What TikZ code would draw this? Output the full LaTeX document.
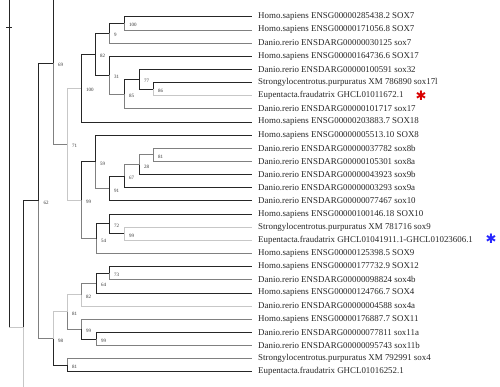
\documentclass[tikz,border=0pt]{standalone}
\usepackage{fontspec}
\setmainfont{Liberation Serif}
\newfontfamily\symfont{DejaVu Sans}
\begin{document}
\begin{tikzpicture}[
    x=1pt, y=-1pt,
    leaf/.style={anchor=west, inner xsep=6pt, inner ysep=0pt, font=\fontsize{8.9}{10}\selectfont, text=black!85},
    boot/.style={anchor=west, inner sep=0pt, xshift=5pt, yshift=-2pt, font=\fontsize{5}{6}\selectfont, text=black!80},
    dk/.style={draw=black!85, line width=0.8pt},
    md/.style={draw=black!50, line width=0.8pt},
    lt/.style={draw=black!22, line width=0.8pt},
    starmark/.style={inner sep=0pt, font=\symfont\fontsize{13}{13}\selectfont}
]
    \useasboundingbox (0,0) rectangle (500,386);
    \clip (0,0) rectangle (500,386);

    % Leaves
    \node [leaf] (l1) at (252,16.7) {Homo.sapiens ENSG00000285438.2 SOX7};
    \node [leaf] (l2) at (252,29.9) {Homo.sapiens ENSG00000171056.8 SOX7};
    \node [leaf] (l3) at (252,43.0) {Danio.rerio ENSDARG00000030125 sox7};
    \node [leaf] (l4) at (252,56.2) {Homo.sapiens ENSG00000164736.6 SOX17};
    \node [leaf] (l5) at (252,69.3) {Danio.rerio ENSDARG00000100591 sox32};
    \node [leaf] (l6) at (252,82.5) {Strongylocentrotus.purpuratus XM 786890 sox17l};
    \node [leaf] (l7) at (252,95.6) {Eupentacta.fraudatrix GHCL01011672.1};
    \node [leaf] (l8) at (252,108.8) {Danio.rerio ENSDARG00000101717 sox17};
    \node [leaf] (l9) at (252,121.9) {Homo.sapiens ENSG00000203883.7 SOX18};
    \node [leaf] (l10) at (252,135.1) {Homo.sapiens ENSG00000005513.10 SOX8};
    \node [leaf] (l11) at (252,148.2) {Danio.rerio ENSDARG00000037782 sox8b};
    \node [leaf] (l12) at (252,161.4) {Danio.rerio ENSDARG00000105301 sox8a};
    \node [leaf] (l13) at (252,174.5) {Danio.rerio ENSDARG00000043923 sox9b};
    \node [leaf] (l14) at (252,187.7) {Danio.rerio ENSDARG00000003293 sox9a};
    \node [leaf] (l15) at (252,200.8) {Danio.rerio ENSDARG00000077467 sox10};
    \node [leaf] (l16) at (252,214.0) {Homo.sapiens ENSG00000100146.18 SOX10};
    \node [leaf] (l17) at (252,227.1) {Strongylocentrotus.purpuratus XM 781716 sox9};
    \node [leaf] (l18) at (252,240.3) {Eupentacta.fraudatrix GHCL01041911.1-GHCL01023606.1};
    \node [leaf] (l19) at (252,253.4) {Homo.sapiens ENSG00000125398.5 SOX9};
    \node [leaf] (l20) at (252,266.6) {Homo.sapiens ENSG00000177732.9 SOX12};
    \node [leaf] (l21) at (252,279.7) {Danio.rerio ENSDARG00000098824 sox4b};
    \node [leaf] (l22) at (252,292.9) {Homo.sapiens ENSG00000124766.7 SOX4};
    \node [leaf] (l23) at (252,306.0) {Danio.rerio ENSDARG00000004588 sox4a};
    \node [leaf] (l24) at (252,319.2) {Homo.sapiens ENSG00000176887.7 SOX11};
    \node [leaf] (l25) at (252,332.3) {Danio.rerio ENSDARG00000077811 sox11a};
    \node [leaf] (l26) at (252,345.5) {Danio.rerio ENSDARG00000095743 sox11b};
    \node [leaf] (l27) at (252,358.6) {Strongylocentrotus.purpuratus XM 792991 sox4};
    \node [leaf] (l28) at (252,371.8) {Eupentacta.fraudatrix GHCL01016252.1};

    % Sea cucumber marks
    \node [starmark, text=red!85!black] (star1) at (421,96) {✱};
    \node [starmark, text=blue!85] (star2) at (491,239) {✱};

    % Inner nodes, SoxF group
    \coordinate (n12) at (124,23.3);
    \coordinate (n123) at (109,33.1);
    \coordinate (nW) at (153,89.0);
    \coordinate (nZ) at (139,79.2);
    \coordinate (nY) at (124,94.0);
    \coordinate (nX) at (109,75.1);
    \coordinate (n82) at (95,54.1);
    \coordinate (n100) at (81,88.0);

    % Inner nodes, SoxE group
    \coordinate (na) at (153,154.8);
    \coordinate (nb) at (139,164.6);
    \coordinate (nc) at (124,176.1);
    \coordinate (nd) at (109,188.5);
    \coordinate (ne) at (95,161.8);
    \coordinate (nf) at (124,233.7);
    \coordinate (ng) at (109,223.8);
    \coordinate (nh) at (96,238.6);
    \coordinate (n99) at (81,200.2);
    \coordinate (n71) at (67,144.1);
    \coordinate (n69) at (53,63.0);
    \coordinate (up69) at (67,-18.1);

    % Inner nodes, SoxC group
    \coordinate (n73) at (109,273.1);
    \coordinate (n64) at (96,283.0);
    \coordinate (n82b) at (81,294.5);
    \coordinate (n99c) at (96,338.9);
    \coordinate (n99b) at (81,329.0);
    \coordinate (n81a) at (67,311.8);
    \coordinate (n81b) at (67,365.2);
    \coordinate (n98) at (53,338.5);

    % Root side
    \coordinate (nA) at (38.5,200.8);
    \coordinate (n23) at (23,327.0);
    \coordinate (down23) at (38.5,453.2);
    \coordinate (n9) at (9,327.0);
    \coordinate (up9) at (9,-10);
    \coordinate (tickl) at (6,27);
    \coordinate (tickr) at (12,27);

    % Branches
    \draw [dk] (n12) |- (l1.west);
    \draw [md] (n12) |- (l2.west);
    \draw [dk] (n123) |- (n12);
    \draw [md] (n123) |- (l3.west);
    \draw [dk] (nW) |- (l6.west);
    \draw [lt] (nW) |- (l7.west);
    \draw [dk] (nZ) |- (l5.west);
    \draw [dk] (nZ) |- (nW);
    \draw [dk] (nY) |- (nZ);
    \draw [md] (nY) |- (l8.west);
    \draw [dk] (nX) |- (l4.west);
    \draw [md] (nX) |- (nY);
    \draw [dk] (n82) |- (n123);
    \draw [dk] (n82) |- (nX);
    \draw [dk] (n100) |- (n82);
    \draw [dk] (n100) |- (l9.west);

    \draw [md] (na) |- (l11.west);
    \draw [md] (na) |- (l12.west);
    \draw [md] (nb) |- (na);
    \draw [dk] (nb) |- (l13.west);
    \draw [md] (nc) |- (nb);
    \draw [dk] (nc) |- (l14.west);
    \draw [dk] (nd) |- (nc);
    \draw [dk] (nd) |- (l15.west);
    \draw [dk] (ne) |- (l10.west);
    \draw [md] (ne) |- (nd);
    \draw [lt] (nf) |- (l17.west);
    \draw [lt] (nf) |- (l18.west);
    \draw [dk] (ng) |- (l16.west);
    \draw [dk] (ng) |- (nf);
    \draw [dk] (nh) |- (ng);
    \draw [md] (nh) |- (l19.west);
    \draw [dk] (n99) |- (ne);
    \draw [md] (n99) |- (nh);
    \draw [lt] (n71) |- (n100);
    \draw [lt] (n71) |- (n99);
    \draw [dk] (n69) |- (up69);
    \draw [md] (n69) |- (n71);

    \draw [dk] (n73) |- (l20.west);
    \draw [md] (n73) |- (l21.west);
    \draw [dk] (n64) |- (n73);
    \draw [dk] (n64) |- (l22.west);
    \draw [md] (n82b) |- (n64);
    \draw [lt] (n82b) |- (l23.west);
    \draw [dk] (n99c) |- (l25.west);
    \draw [md] (n99c) |- (l26.west);
    \draw [md] (n99b) |- (l24.west);
    \draw [dk] (n99b) |- (n99c);
    \draw [lt] (n81a) |- (n82b);
    \draw [md] (n81a) |- (n99b);
    \draw [md] (n81b) |- (l27.west);
    \draw [dk] (n81b) |- (l28.west);
    \draw [lt] (n98) |- (n81a);
    \draw [dk] (n98) |- (n81b);

    \draw [dk] (nA) |- (n69);
    \draw [md] (nA) |- (n98);
    \draw [dk] (n23) |- (nA);
    \draw [lt] (n23) |- (down23);
    \draw [lt] (n9) -- (n23);
    \draw [dk] (n9) -- (up9);
    \draw [dk] (tickl) -- (tickr);

    % Support values
    \node [boot] (b12) at (n12) {100};
    \node [boot] (b123) at (n123) {9};
    \node [boot] (bW) at (nW) {86};
    \node [boot] (bZ) at (nZ) {77};
    \node [boot] (bY) at (nY) {85};
    \node [boot] (bX) at (nX) {31};
    \node [boot] (b82) at (n82) {82};
    \node [boot] (b100) at (n100) {100};
    \node [boot] (ba) at (na) {81};
    \node [boot] (bb) at (nb) {28};
    \node [boot] (bc) at (nc) {67};
    \node [boot] (bd) at (nd) {91};
    \node [boot] (be) at (ne) {59};
    \node [boot] (bf) at (nf) {99};
    \node [boot] (bg) at (ng) {72};
    \node [boot] (bh) at (nh) {54};
    \node [boot] (b99) at (n99) {99};
    \node [boot] (b71) at (n71) {71};
    \node [boot] (b69) at (n69) {69};
    \node [boot] (b73) at (n73) {73};
    \node [boot] (b64) at (n64) {64};
    \node [boot] (b82b) at (n82b) {82};
    \node [boot] (b99c) at (n99c) {99};
    \node [boot] (b99b) at (n99b) {99};
    \node [boot] (b81a) at (n81a) {81};
    \node [boot] (b81b) at (n81b) {81};
    \node [boot] (b98) at (n98) {98};
    \node [boot] (bA) at (nA) {62};
\end{tikzpicture}
\end{document}
